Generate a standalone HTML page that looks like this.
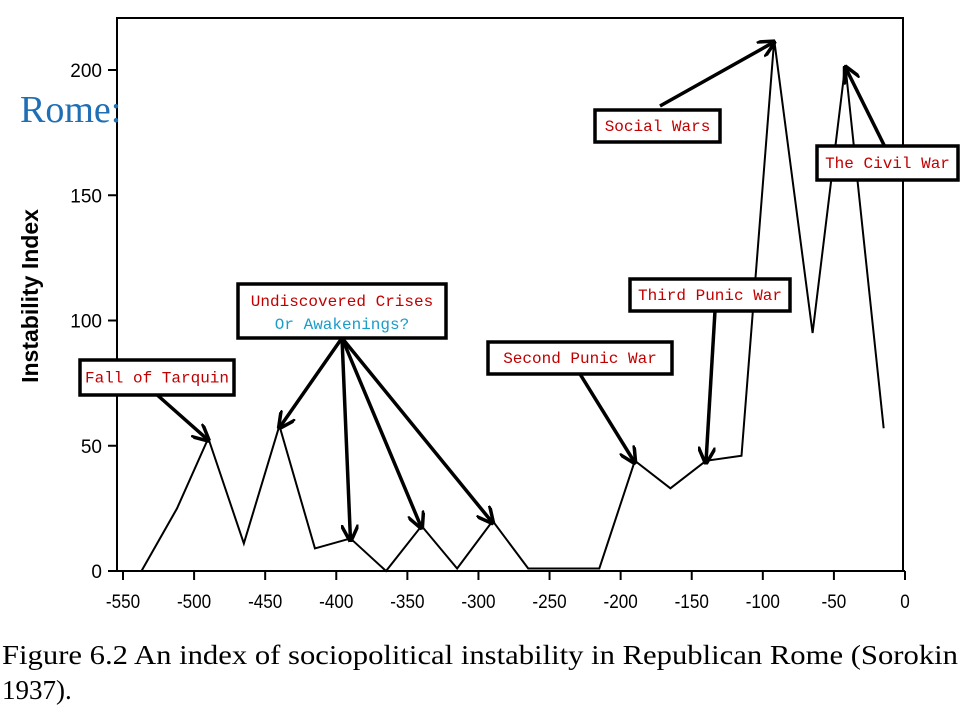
<!DOCTYPE html>
<html><head><meta charset="utf-8"><style>
html,body{margin:0;padding:0;background:#fff;}
svg{display:block;}
</style></head><body>
<svg id="chart" width="960" height="720" viewBox="0 0 960 720" xmlns="http://www.w3.org/2000/svg">
<defs>
<marker id="ah" viewBox="0 0 10 10" refX="9" refY="5" markerWidth="5" markerHeight="5" orient="auto">
<path d="M0,0 L10,5 L0,10" fill="none" stroke="#000" stroke-width="2"/>
</marker>
</defs>
<g id="frame"></g>
<g id="axes"></g>
<g id="series"></g>
<g id="annots"></g>
<text x="20" y="122" font-family="Liberation Serif, serif" font-size="38" fill="#1f6fb5">Rome:</text>
<text transform="translate(38,296) rotate(-90)" text-anchor="middle" font-family="Liberation Sans, sans-serif" font-weight="bold" font-size="23" fill="#000">Instability Index</text>
<text x="2" y="664" textLength="956" lengthAdjust="spacingAndGlyphs" font-family="Liberation Serif, serif" font-size="27" fill="#000">Figure 6.2  An index of sociopolitical instability in Republican Rome (Sorokin</text>
<text x="2" y="699" font-family="Liberation Serif, serif" font-size="27" fill="#000">1937).</text>
</svg>
<script>
const years = [-537,-512,-490,-465,-440,-415,-390,-365,-340,-315,-290,-265,-215,-190,-165,-140,-115,-92,-65,-42,-15];
const values = [0,25,53,11,58,9,13,0,18,1,20,1,1,44,33,44,46,212,95,202,57];
const xTicks = [-550,-500,-450,-400,-350,-300,-250,-200,-150,-100,-50,0];
const yTicks = [0,50,100,150,200];

const NS='http://www.w3.org/2000/svg';
const xs = v => 905 + v*(782/550);
const ys = v => 571 - v*(501/200);
function mk(tag, attrs, parent, text){
  const e=document.createElementNS(NS,tag);
  for(const k in attrs) e.setAttribute(k,attrs[k]);
  if(text!==undefined) e.textContent=text;
  document.getElementById(parent).appendChild(e);
  return e;
}
let f=mk('rect',{x:117,y:18,width:786,height:553,fill:'none',stroke:'#000','stroke-width':2},'frame');


xTicks.forEach(t=>{
  const l=mk('line',{x1:xs(t),x2:xs(t),y1:571,y2:580,stroke:'#000','stroke-width':2},'axes');
  
  
  const tx=mk('text',{x:xs(t),y:608,'text-anchor':'middle','font-family':'Liberation Sans, sans-serif','font-size':19,transform:'translate('+xs(t)+',0) scale(0.9,1) translate('+(-xs(t))+',0)'},'axes',String(t));
  
  
});
let xl=mk('line',{x1:xs(-550),x2:905,y1:571,y2:571,stroke:'#000','stroke-width':2},'axes');


yTicks.forEach(t=>{
  const l=mk('line',{x1:108,x2:117,y1:ys(t),y2:ys(t),stroke:'#000','stroke-width':2},'axes');
  
  
  const tx=mk('text',{x:102,y:ys(t)+7,'text-anchor':'end','font-family':'Liberation Sans, sans-serif','font-size':19},'axes',String(t));
  
  
});
const pts=years.map((y,i)=>xs(y)+','+ys(values[i])).join(' ');
const pl=mk('polyline',{points:pts,fill:'none',stroke:'#000','stroke-width':2},'series');


function box(name,x,y,w,h,lines){
  const r=mk('rect',{x:x,y:y,width:w,height:h,fill:'#fff',stroke:'#000','stroke-width':3.5},'annots');
  
  
  lines.forEach((ln,i)=>{
    const t=mk('text',{x:x+w/2,y:y+(lines.length===1?h/2+5:h/2-5+i*23),'text-anchor':'middle','font-family':'Liberation Mono, monospace','font-size':16,fill:ln[1]},'annots',ln[0]);
    
    
  });
}
function arrow(name,x1,y1,i){
  const a=mk('line',{x1:x1,y1:y1,x2:xs(years[i]),y2:ys(values[i])+2,stroke:'#000','stroke-width':3.5,'marker-end':'url(#ah)'},'annots');
  
  
}
arrow('fall-of-tarquin',155,393,2);
arrow('undiscovered',342,338,4);
arrow('undiscovered',342,338,6);
arrow('undiscovered',342,338,8);
arrow('undiscovered',342,338,10);
arrow('second-punic',580,374,13);
arrow('third-punic',715,311,15);
arrow('social-wars',660,106,17);
arrow('civil-war',885,147,19);
box('fall-of-tarquin',80,360,154,35,[['Fall of Tarquin','#c00000']]);
box('undiscovered',238,284,208,54,[['Undiscovered Crises','#c00000'],['Or Awakenings?','#1a9cc8']]);
box('second-punic',488,342,184,32,[['Second Punic War','#c00000']]);
box('third-punic',630,279,160,32,[['Third Punic War','#c00000']]);
box('social-wars',595,110,125,32,[['Social Wars','#c00000']]);
box('civil-war',817,146,141,34,[['The Civil War','#c00000']]);
</script>
</body></html>
